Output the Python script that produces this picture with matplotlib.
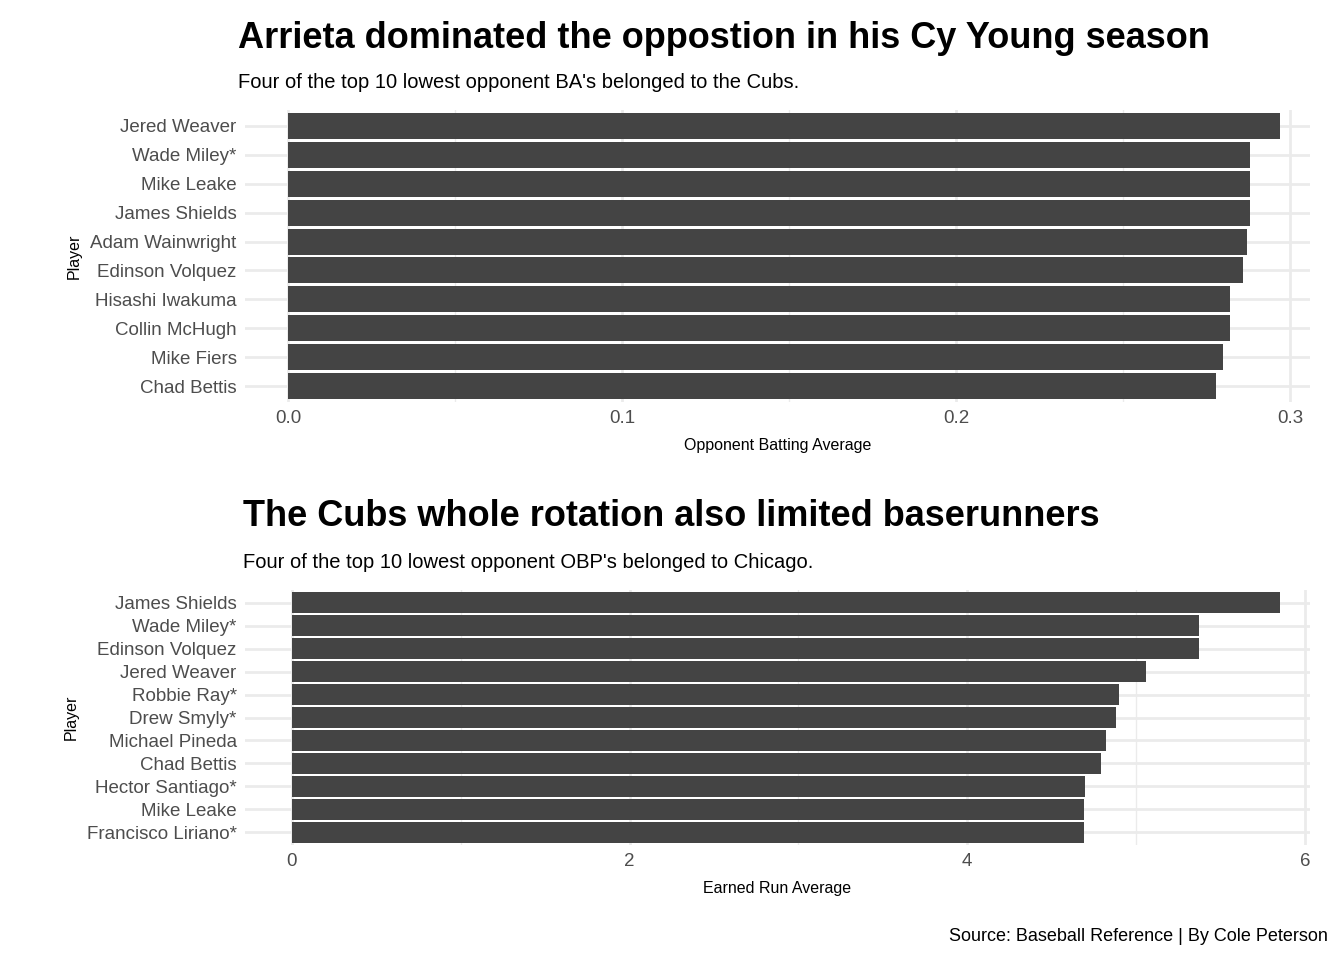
import matplotlib.pyplot as plt
from matplotlib.ticker import MultipleLocator

plt.rcParams['font.family'] = ['Liberation Sans', 'DejaVu Sans']

ba_players = ["Jered Weaver", "Wade Miley*", "Mike Leake", "James Shields", "Adam Wainwright",
              "Edinson Volquez", "Hisashi Iwakuma", "Collin McHugh", "Mike Fiers", "Chad Bettis"]
ba_values = [0.297, 0.288, 0.288, 0.288, 0.287, 0.286, 0.282, 0.282, 0.280, 0.278]

era_players = ["James Shields", "Wade Miley*", "Edinson Volquez", "Jered Weaver", "Robbie Ray*",
               "Drew Smyly*", "Michael Pineda", "Chad Bettis", "Hector Santiago*", "Mike Leake",
               "Francisco Liriano*"]
era_values = [5.85, 5.37, 5.37, 5.06, 4.90, 4.88, 4.82, 4.79, 4.70, 4.69, 4.69]

W, H = 1344, 960
fig = plt.figure(figsize=(W / 100, H / 100), dpi=100)


def px_axes(l, t, r, b):
    return fig.add_axes([l / W, 1 - b / H, (r - l) / W, (b - t) / H])


def style(ax, major, minor):
    ax.set_facecolor('white')
    for s in ax.spines.values():
        s.set_visible(False)
    ax.xaxis.set_major_locator(MultipleLocator(major))
    ax.xaxis.set_minor_locator(MultipleLocator(minor))
    ax.grid(which='major', color='#ebebeb', lw=2, zorder=0)
    ax.grid(which='minor', axis='x', color='#ebebeb', lw=1, zorder=0)
    ax.tick_params(which='both', length=0, labelsize=13.5, labelcolor='#4d4d4d', pad=6)
    ax.set_axisbelow(True)


def panel(ax, players, values, xlim, major, minor, xlabel, fmt):
    n = len(players)
    ys = list(range(n))[::-1]
    ax.barh(ys, values, height=0.9, color='#444444', zorder=2)
    ax.set_yticks(ys)
    ax.set_yticklabels(players)
    ax.set_ylim(-0.55, n - 0.45)
    ax.set_xlim(*xlim)
    style(ax, major, minor)
    ax.xaxis.set_major_formatter(fmt)
    ax.set_xlabel(xlabel, fontsize=11.5, color='black', labelpad=8)
    ax.set_ylabel("Player", fontsize=11.5, color='black', labelpad=6)


ax1 = px_axes(245, 110, 1310, 402)
panel(ax1, ba_players, ba_values, (-0.0129, 0.306), 0.1, 0.05,
      "Opponent Batting Average", plt.FuncFormatter(lambda v, p: f"{v:.1f}"))

ax2 = px_axes(245, 590, 1310, 845)
panel(ax2, era_players, era_values, (-0.278, 6.03), 2, 1,
      "Earned Run Average", plt.FuncFormatter(lambda v, p: f"{v:.0f}"))

fig.text(238 / W, 1 - 48 / H, "Arrieta dominated the oppostion in his Cy Young season",
         fontsize=26, fontweight='bold', ha='left', va='baseline')
fig.text(238 / W, 1 - 88 / H, "Four of the top 10 lowest opponent BA's belonged to the Cubs.",
         fontsize=14.5, ha='left', va='baseline')
fig.text(243 / W, 1 - 526 / H, "The Cubs whole rotation also limited baserunners",
         fontsize=26, fontweight='bold', ha='left', va='baseline')
fig.text(243 / W, 1 - 568 / H, "Four of the top 10 lowest opponent OBP's belonged to Chicago.",
         fontsize=14.5, ha='left', va='baseline')
fig.text(1328 / W, 1 - 941 / H, "Source: Baseball Reference | By Cole Peterson",
         fontsize=13, ha='right', va='baseline')

fig.savefig("out.png", dpi=100)
